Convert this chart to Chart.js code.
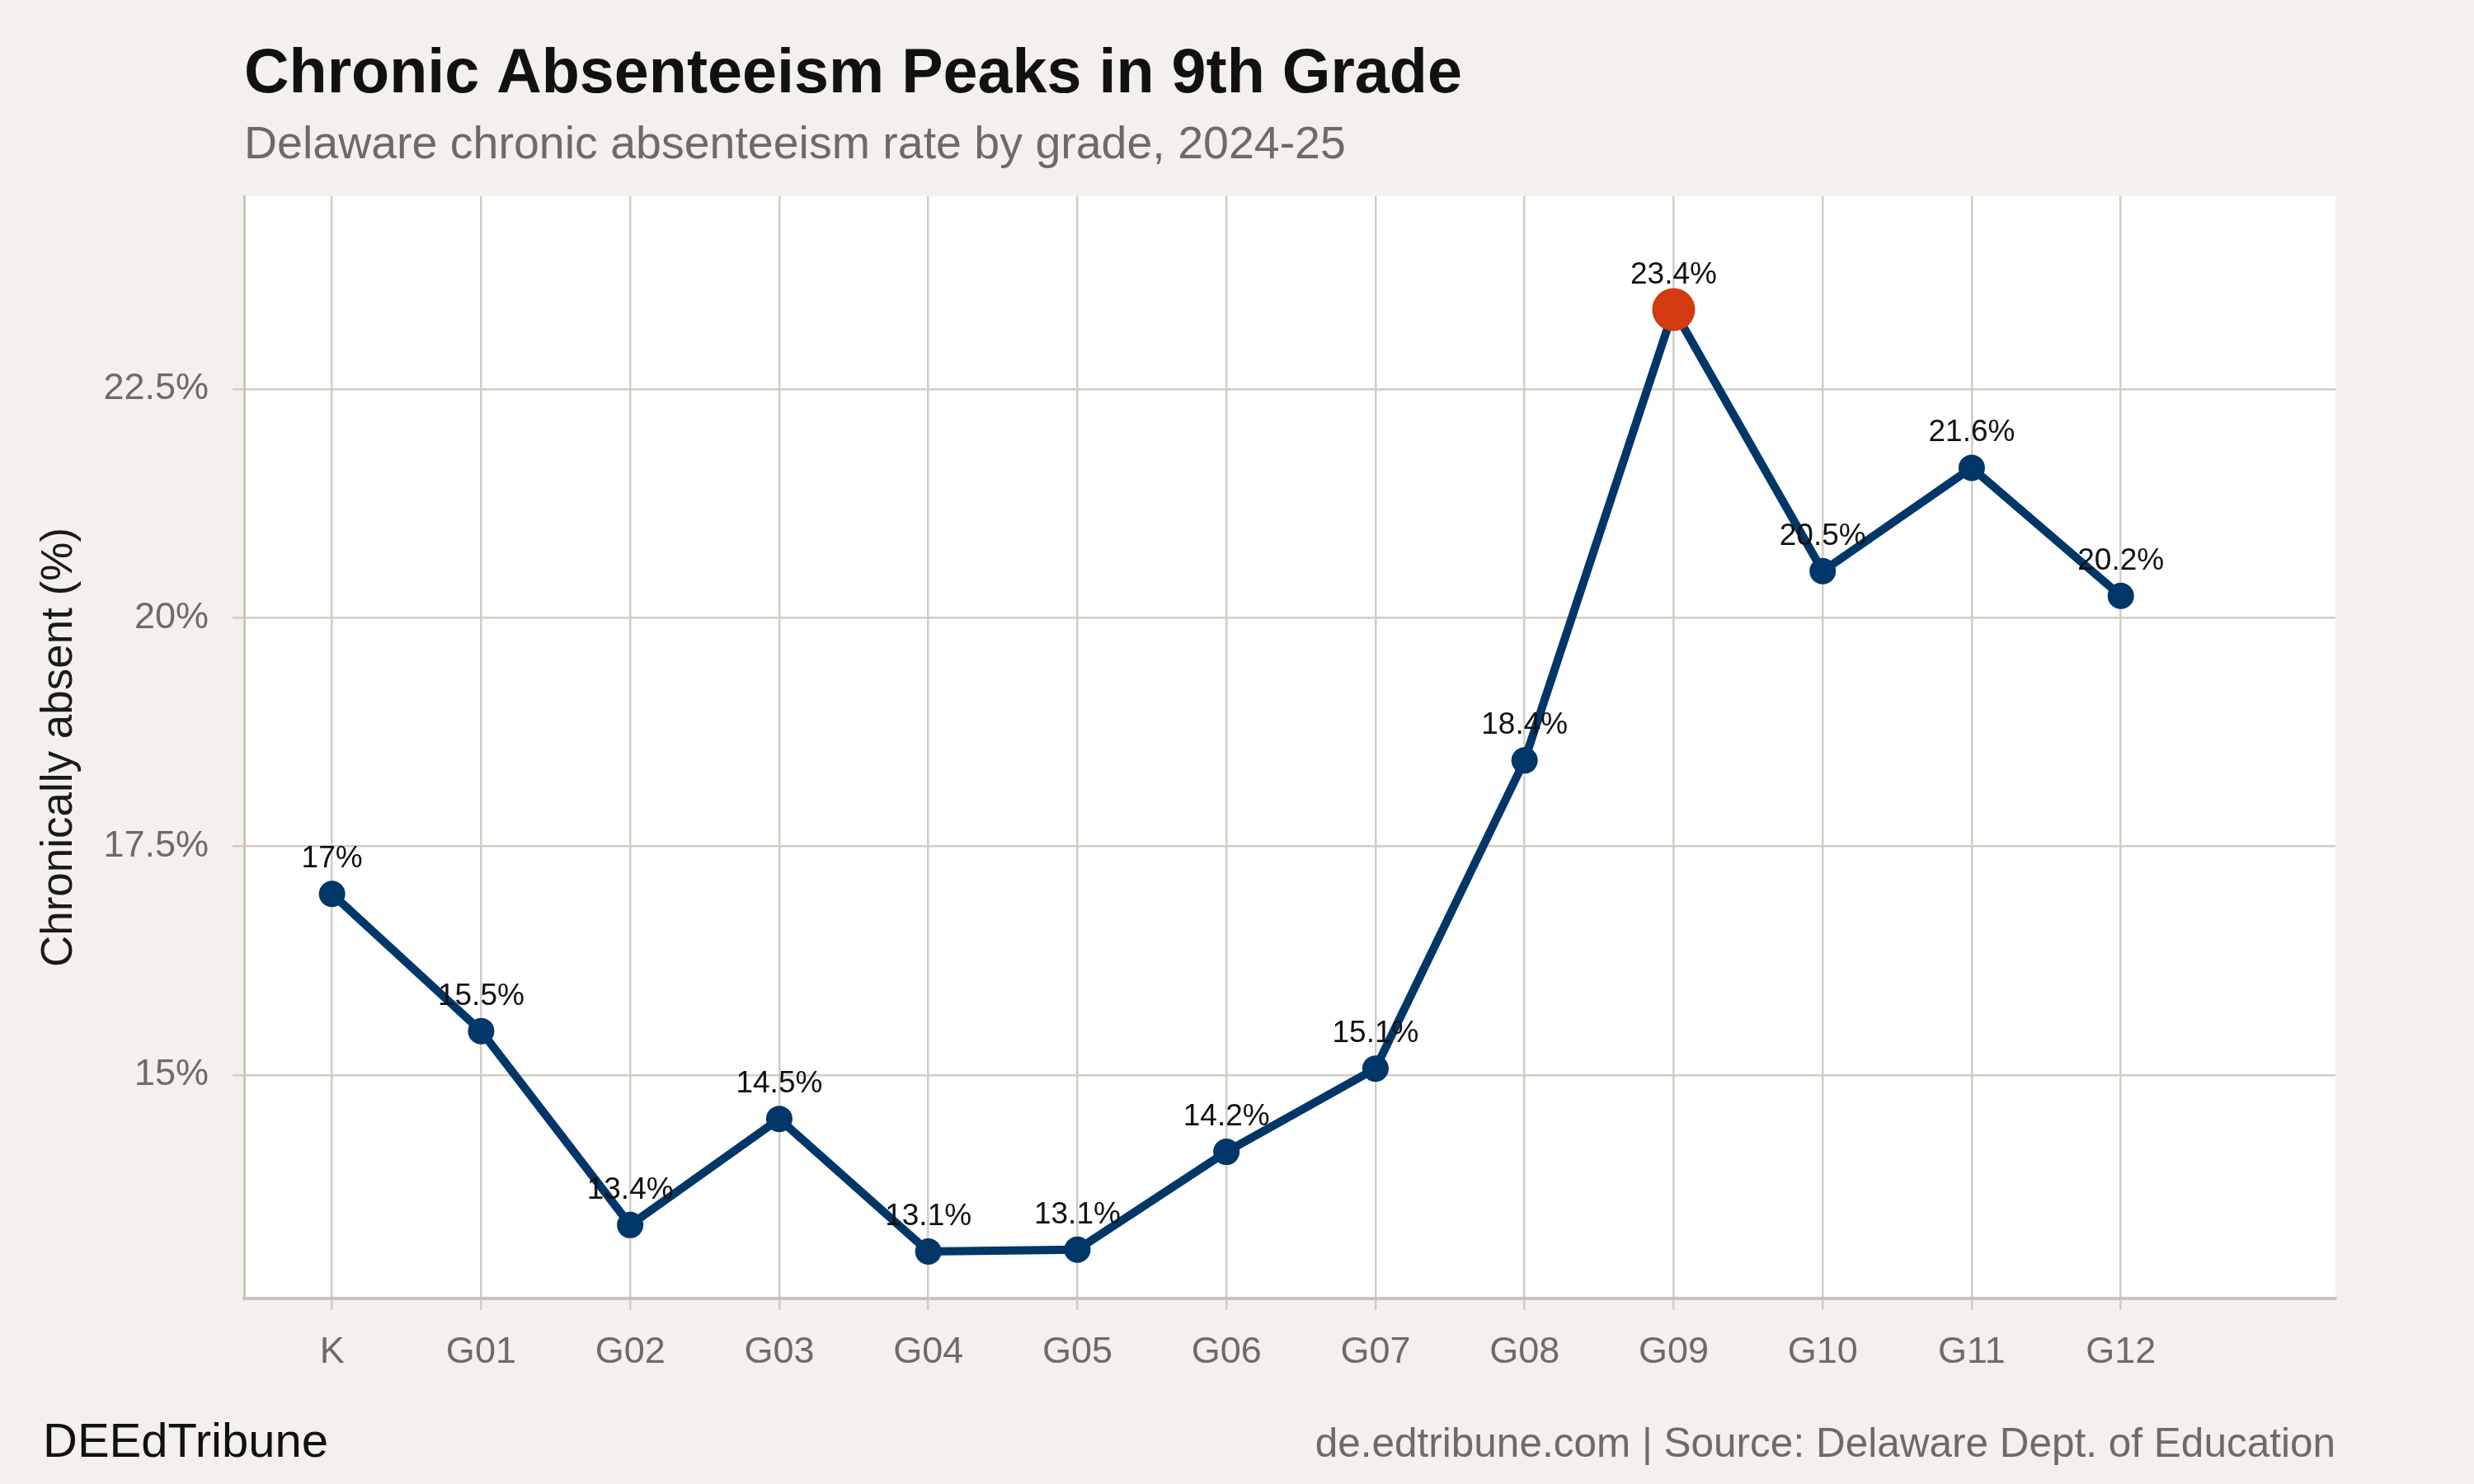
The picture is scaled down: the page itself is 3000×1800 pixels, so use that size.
<!DOCTYPE html>
<html>
<head>
<meta charset="utf-8">
<script src="https://cdn.jsdelivr.net/npm/chart.js@4.4.1/dist/chart.umd.min.js"></script>
<style>
  html, body { margin: 0; padding: 0; background: #f4f1ec; overflow: hidden; }
  #wrap { width: 3000px; height: 1800px; position: relative; }
</style>
</head>
<body>
<div id="wrap"><canvas id="chart"></canvas></div>
<script>
// data
const grades = ['K', 'G01', 'G02', 'G03', 'G04', 'G05', 'G06', 'G07', 'G08', 'G09', 'G10', 'G11', 'G12'];
const absentRate = [16.98, 15.48, 13.36, 14.52, 13.07, 13.09, 14.16, 15.07, 18.44, 23.37, 20.51, 21.64, 20.24];
const yTickValues = [15, 17.5, 20, 22.5];

const FONT = '"Liberation Sans", Arial, Helvetica, sans-serif';
const NAVY = '#013668';
const ORANGE = '#d33a0f';
const GRID = '#d2ccc2';

const peakIdx = absentRate.indexOf(Math.max(...absentRate));
const pointColors = absentRate.map((v, i) => i === peakIdx ? ORANGE : NAVY);
const pointSizes = absentRate.map((v, i) => i === peakIdx ? 26 : 16);

function fmtPct(v) {
    return (Math.round(v * 10) / 10) + '%';
}

// white panel + titles + footer
const decorPlugin = {
    id: 'decor',
    beforeDraw(chart) {
        const { ctx, chartArea: a } = chart;
        ctx.save();
        ctx.fillStyle = '#ffffff';
        ctx.fillRect(a.left, a.top, a.right - a.left, a.bottom - a.top);
        ctx.restore();
    },
    afterDraw(chart) {
        const { ctx, chartArea: a } = chart;
        ctx.save();
        ctx.textBaseline = 'alphabetic';
        ctx.textAlign = 'left';
        ctx.fillStyle = '#111111';
        ctx.font = `bold 75.5px ${FONT}`;
        ctx.fillText('Chronic Absenteeism Peaks in 9th Grade', a.left, 112);
        ctx.fillStyle = '#6e6b66';
        ctx.font = `55.5px ${FONT}`;
        ctx.fillText('Delaware chronic absenteeism rate by grade, 2024-25', a.left, 192);

        // footer
        ctx.fillStyle = '#111111';
        ctx.font = `58px ${FONT}`;
        ctx.fillText('DEEdTribune', 52, 1767);
        ctx.fillStyle = '#6e6b66';
        ctx.font = `49.5px ${FONT}`;
        ctx.textAlign = 'right';
        ctx.fillText('de.edtribune.com | Source: Delaware Dept. of Education', a.right, 1767);

        // y axis title
        ctx.translate(72, (a.top + a.bottom) / 2);
        ctx.rotate(-Math.PI / 2);
        ctx.textAlign = 'center';
        ctx.textBaseline = 'middle';
        ctx.fillStyle = '#1a1a1a';
        ctx.font = `53px ${FONT}`;
        ctx.fillText('Chronically absent (%)', 0, 0);
        ctx.restore();
    }
};

// value labels above each point
const valueLabels = {
    id: 'valueLabels',
    afterDatasetsDraw(chart) {
        const { ctx } = chart;
        const meta = chart.getDatasetMeta(0);
        ctx.save();
        ctx.font = `37px ${FONT}`;
        ctx.fillStyle = '#111111';
        ctx.textAlign = 'center';
        ctx.textBaseline = 'alphabetic';
        meta.data.forEach((pt, i) => {
            ctx.fillText(fmtPct(absentRate[i]), pt.x, pt.y - 32);
        });
        ctx.restore();
    }
};

new Chart(document.getElementById('chart'), {
    type: 'line',
    data: {
        datasets: [{
            data: absentRate.map((v, i) => ({ x: i, y: v })),
            borderColor: NAVY,
            borderWidth: 10,
            pointBackgroundColor: pointColors,
            pointBorderWidth: 0,
            pointRadius: pointSizes,
            tension: 0,
            clip: false
        }]
    },
    options: {
        responsive: true,
        maintainAspectRatio: false,
        animation: false,
        layout: { padding: { top: 238, right: 168, bottom: 115, left: 0 } },
        plugins: {
            legend: { display: false },
            tooltip: { enabled: false }
        },
        scales: {
            x: {
                type: 'linear',
                min: -0.59,
                max: 13.44,
                afterBuildTicks(scale) {
                    scale.ticks = grades.map((g, i) => ({ value: i }));
                },
                afterFit(scale) { scale.height = 110; },
                ticks: {
                    callback: (v) => grades[v],
                    font: { family: FONT, size: 45 },
                    color: '#6e6b66',
                    padding: 25,
                    maxRotation: 0,
                    autoSkip: false
                },
                grid: { color: GRID, lineWidth: 2.5, tickLength: 14, tickColor: GRID },
                border: { color: '#cbc5bb', width: 4 }
            },
            y: {
                min: 12.556,
                max: 24.61,
                afterBuildTicks(scale) {
                    scale.ticks = yTickValues.map(v => ({ value: v }));
                },
                afterFit(scale) { scale.width = 296; },
                ticks: {
                    callback: (v) => v + '%',
                    font: { family: FONT, size: 45 },
                    color: '#6e6b66',
                    padding: 29
                },
                grid: { color: GRID, lineWidth: 2.5, tickLength: 14, tickColor: GRID },
                border: { color: '#cbc5bb', width: 3 }
            }
        }
    },
    plugins: [decorPlugin, valueLabels]
});
</script>
</body>
</html>
